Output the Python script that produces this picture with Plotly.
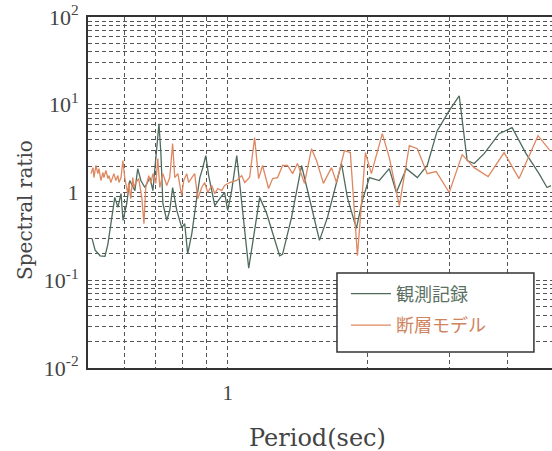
import plotly.graph_objects as go

# Observed record (観測記録)
period_obs = [0.510, 0.518, 0.531, 0.544, 0.552, 0.563, 0.571, 0.580, 0.589, 0.595,
              0.606, 0.615, 0.625, 0.631, 0.640, 0.650, 0.663, 0.680, 0.690, 0.704,
              0.711, 0.718, 0.725, 0.739, 0.750, 0.761, 0.777, 0.796, 0.808, 0.820,
              0.837, 0.858, 0.871, 0.884, 0.897, 0.910, 0.928, 0.938, 0.961, 0.985,
              1.000, 1.020, 1.046, 1.077, 1.110, 1.143, 1.172, 1.213, 1.294, 1.313,
              1.373, 1.443, 1.501, 1.577, 1.641, 1.759, 1.811, 1.894, 1.951, 2.020,
              2.122, 2.230, 2.309, 2.427, 2.563, 2.692, 2.829, 3.002, 3.155, 3.282,
              3.398, 3.570, 3.846, 4.102, 4.396, 4.688, 4.878, 4.976]
ratio_obs = [0.30, 0.22, 0.19, 0.187, 0.26, 0.52, 0.88, 0.68, 0.97, 0.48,
             0.75, 1.37, 1.14, 1.05, 1.87, 1.37, 1.14, 1.48, 1.05, 3.0,
             6.08, 2.77, 0.75, 0.48, 0.62, 1.14, 0.62, 0.40, 0.44, 0.20,
             0.34, 0.88, 1.48, 1.92, 2.63, 1.56, 0.88, 0.71, 0.85, 1.0,
             0.62, 1.05, 2.63, 0.58, 0.137, 0.37, 0.88, 0.58, 0.19, 0.197,
             0.52, 2.03, 0.88, 0.285, 0.52, 2.14, 0.88, 0.39, 0.81, 1.48,
             1.37, 1.87, 1.0, 1.87, 1.48, 2.03, 5.07, 8.55, 12.65, 2.31,
             2.14, 2.77, 4.68, 5.48, 2.77, 1.64, 1.14, 1.20]

# Fault model (断層モデル)
period_model = [0.5075, 0.5125, 0.515, 0.520, 0.525, 0.528, 0.533, 0.5385, 0.541, 0.5465,
                0.552, 0.555, 0.560, 0.566, 0.5685, 0.574, 0.580, 0.583, 0.589, 0.5945,
                0.600, 0.609, 0.612, 0.618, 0.6245, 0.628, 0.634, 0.643, 0.653, 0.660,
                0.666, 0.676, 0.683, 0.690, 0.700, 0.707, 0.714, 0.725, 0.739, 0.750,
                0.761, 0.769, 0.781, 0.796, 0.804, 0.816, 0.824, 0.837, 0.849, 0.862,
                0.879, 0.892, 0.906, 0.924, 0.938, 0.952, 0.971, 0.985, 1.010, 1.046,
                1.072, 1.088, 1.115, 1.143, 1.166, 1.189, 1.225, 1.250, 1.281, 1.313,
                1.346, 1.380, 1.414, 1.464, 1.516, 1.554, 1.608, 1.674, 1.716, 1.785,
                1.838, 1.904, 1.981, 2.040, 2.154, 2.230, 2.344, 2.463, 2.563, 2.692,
                2.815, 3.002, 3.202, 3.398, 3.642, 3.943, 4.246, 4.665, 4.951]
ratio_model = [1.64, 1.92, 1.48, 2.03, 1.64, 1.87, 1.37, 1.69, 1.48, 1.78,
               1.44, 1.56, 1.30, 1.48, 1.64, 1.37, 1.56, 1.30, 1.48, 2.31,
               1.48, 0.97, 1.30, 0.85, 1.48, 1.14, 1.30, 1.44, 0.88, 0.44,
               1.14, 1.56, 1.27, 1.64, 1.27, 2.43, 1.14, 1.64, 1.20, 1.48,
               3.61, 1.48, 1.64, 0.92, 1.37, 1.64, 1.30, 1.48, 1.64, 0.85,
               1.14, 1.30, 1.0, 1.20, 0.97, 1.11, 1.05, 1.20, 1.30, 1.37,
               1.56, 1.30, 1.48, 4.22, 1.44, 2.03, 1.11, 1.44, 1.48, 2.03,
               2.03, 1.64, 2.14, 1.27, 3.16, 2.31, 1.27, 1.92, 1.30, 3.0,
               2.85, 0.19, 2.85, 1.64, 4.68, 2.50, 0.71, 3.42, 3.16, 1.64,
               1.73, 1.0, 2.70, 1.92, 1.52, 2.85, 1.44, 4.44, 3.0]

x_tickvals = [0.6, 0.7, 0.8, 0.9, 1, 2, 3, 4]
x_ticktext = ["", "", "", "", "1", "", "", ""]

y_decades = [0.01, 0.1, 1, 10, 100]
y_decade_labels = ["10<sup>-2</sup>", "10<sup>-1</sup>", "1", "10<sup>1</sup>", "10<sup>2</sup>"]

y_tickvals, y_ticktext = [], []
for d, lab in zip(y_decades, y_decade_labels):
    y_tickvals.append(d)
    y_ticktext.append(lab)
    if d < 100:
        for k in range(2, 10):
            y_tickvals.append(round(d * k, 6))
            y_ticktext.append("")

GREEN = "#4e6b5c"
ORANGE = "#de8862"
SERIF = "Liberation Serif, Times New Roman, serif"
TITLE = "DejaVu Serif, serif"
JP = "Noto Sans CJK JP"
TXT = "#444444"

fig = go.Figure()
fig.add_trace(go.Scatter(
    x=period_obs, y=ratio_obs, mode="lines",
    line=dict(color=GREEN, width=1.3),
    name="<span style='color:#5a7062'>観測記録</span>", legendgroup="a"))
fig.add_trace(go.Scatter(
    x=period_model, y=ratio_model, mode="lines",
    line=dict(color=ORANGE, width=1.3),
    name="<span style='color:#d0845e'>断層モデル</span>", legendgroup="b"))

grid = dict(showgrid=True, gridcolor="#555555", gridwidth=1, griddash="4px,3px")

fig.update_xaxes(type="log", range=[-0.30103, 0.69897],
                 tickmode="array", tickvals=x_tickvals, ticktext=x_ticktext,
                 ticks="", showline=True, linecolor="#333333", linewidth=2, mirror=True,
                 tickfont=dict(family=SERIF, size=21, color=TXT),
                 ticklabelstandoff=5, zeroline=False, **grid)
fig.update_yaxes(type="log", range=[-2, 2],
                 tickmode="array", tickvals=y_tickvals, ticktext=y_ticktext,
                 ticks="", showline=True, linecolor="#333333", linewidth=2, mirror=False,
                 tickfont=dict(family=SERIF, size=22, color=TXT),
                 ticklabelstandoff=3, zeroline=False, **grid)

fig.update_layout(
    width=552, height=451,
    margin=dict(l=88, r=0, t=17, b=83),
    paper_bgcolor="white", plot_bgcolor="white",
    showlegend=True,
    legend=dict(x=0.556, y=0.2635, xanchor="left", yanchor="top",
                bgcolor="rgba(0,0,0,0)", borderwidth=0,
                font=dict(family=JP, size=18), traceorder="grouped",
                tracegroupgap=5, itemwidth=40),
    shapes=[
        dict(type="rect", xref="paper", yref="paper",
             x0=0.5366, x1=0.961, y0=0.0456, y1=0.2707, layer="above",
             fillcolor="white", line=dict(color="#333333", width=1.5)),
    ],
    annotations=[
        dict(text="Period(sec)", xref="paper", yref="paper",
             x=0.494, y=-0.199, xanchor="center", yanchor="middle",
             showarrow=False, font=dict(family=TITLE, size=24, color=TXT)),
        dict(text="Spectral ratio", xref="paper", yref="paper",
             x=-0.136, y=0.45, xanchor="center", yanchor="middle", textangle=-90,
             showarrow=False, font=dict(family=TITLE, size=20, color=TXT)),
    ],
)

fig.write_html("out.html", config={"displayModeBar": False},
               post_script="document.body.style.margin='0';")
